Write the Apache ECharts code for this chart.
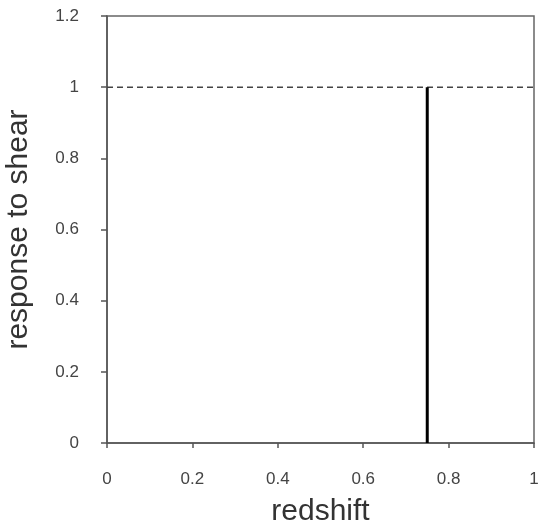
<!DOCTYPE html>
<html>
<head>
<meta charset="utf-8">
<script src="https://cdn.jsdelivr.net/npm/echarts@6/dist/echarts.min.js"></script>
<style>html,body{margin:0;padding:0;background:#fff}#c{width:539px;height:526px}</style>
</head>
<body>
<div id="c"></div>
<script>
const xTicks = [0, 0.2, 0.4, 0.6, 0.8, 1];
const yTicks = [0, 0.2, 0.4, 0.6, 0.8, 1, 1.2];
const responseX = [0.75, 0.75];
const responseY = [0, 1];
const referenceX = [0, 1];
const referenceY = [1, 1];
const xTitle = 'redshift';
const yTitle = 'response to shear';

const chart = echarts.init(document.getElementById('c'));
const font = 'Liberation Sans, Arial, sans-serif';
chart.setOption({
  animation: false,
  grid: { left: 107, right: 5, top: 16, bottom: 83, show: true, borderColor: '#666', borderWidth: 1.5, backgroundColor: 'transparent', outerBoundsMode: 'none', containLabel: false },
  xAxis: {
    type: 'value', min: 0, max: 1, interval: 0.2,
    name: xTitle, nameLocation: 'middle', nameGap: 54,
    nameTextStyle: { fontFamily: font, fontSize: 30, color: '#333' },
    axisLine: { show: true, lineStyle: { color: '#555', width: 1.5 } },
    axisTick: { show: true, inside: false, length: 5, lineStyle: { color: '#555', width: 1.5 } },
    axisLabel: { fontFamily: font, fontSize: 17, color: '#444', margin: 28, formatter: v => String(+v.toFixed(1)) },
    splitLine: { show: false }
  },
  yAxis: {
    type: 'value', min: 0, max: 1.2, interval: 0.2,
    name: yTitle, nameLocation: 'middle', nameGap: 73, nameRotate: 90,
    nameTextStyle: { fontFamily: font, fontSize: 30, color: '#333' },
    axisLine: { show: true, lineStyle: { color: '#555', width: 1.5 } },
    axisTick: { show: true, inside: false, length: 6, lineStyle: { color: '#555', width: 1.5 } },
    axisLabel: { fontFamily: font, fontSize: 17, color: '#444', margin: 28, formatter: v => String(+v.toFixed(1)) },
    splitLine: { show: false }
  },
  series: [
    {
      type: 'line', symbol: 'none',
      data: referenceX.map((x, i) => [x, referenceY[i]]),
      lineStyle: { color: '#444', width: 1.5, type: [6, 4] }
    },
    {
      type: 'line', symbol: 'none',
      data: responseX.map((x, i) => [x, responseY[i]]),
      lineStyle: { color: '#000', width: 3 }
    }
  ]
});
</script>
</body>
</html>
